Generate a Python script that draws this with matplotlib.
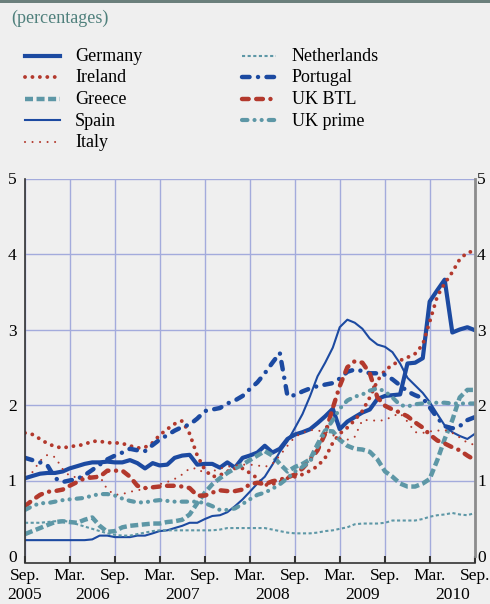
import matplotlib
matplotlib.use('Agg')
import matplotlib.pyplot as plt
from matplotlib.lines import Line2D
from matplotlib.patches import Rectangle
import pandas as pd

plt.rcParams['font.family'] = ['Liberation Serif', 'DejaVu Serif']

# ---------------------------------------------------------------------------
# Data: monthly values, Sep. 2005 - Sep. 2010 (percentages)
# ---------------------------------------------------------------------------

months = pd.date_range('2005-09-01', '2010-09-01', freq='MS')

germany = [1.03, 1.06, 1.09, 1.10, 1.10, 1.12, 1.16, 1.19, 1.22, 1.24,
           1.24, 1.25, 1.24, 1.24, 1.27, 1.23, 1.16, 1.23, 1.20, 1.21,
           1.30, 1.33, 1.34, 1.21, 1.22, 1.22, 1.17, 1.24, 1.17, 1.30,
           1.33, 1.37, 1.46, 1.37, 1.42, 1.55, 1.61, 1.64, 1.68, 1.76,
           1.85, 1.95, 1.68, 1.78, 1.84, 1.90, 1.94, 2.08, 2.12, 2.13,
           2.14, 2.55, 2.56, 2.62, 3.37, 3.52, 3.66, 2.96, 3.00, 3.03, 2.99]
ireland = [1.63, 1.61, 1.55, 1.49, 1.45, 1.43, 1.45, 1.46, 1.48, 1.52,
           1.52, 1.50, 1.50, 1.49, 1.46, 1.43, 1.44, 1.50, 1.60, 1.68,
           1.75, 1.79, 1.62, 1.33, 1.14, 1.05, 1.07, 1.12, 1.16, 1.16,
           1.10, 1.03, 0.94, 0.95, 0.98, 1.03, 1.05, 1.08, 1.13, 1.19,
           1.30, 1.50, 1.62, 1.70, 1.80, 1.92, 2.10, 2.32, 2.46, 2.53,
           2.59, 2.63, 2.68, 2.80, 3.10, 3.44, 3.61, 3.76, 3.93, 4.02, 4.04]
greece = [0.29, 0.33, 0.37, 0.41, 0.45, 0.46, 0.45, 0.44, 0.48, 0.51,
          0.40, 0.32, 0.33, 0.38, 0.40, 0.41, 0.42, 0.43, 0.43, 0.45,
          0.46, 0.48, 0.55, 0.70, 0.84, 0.95, 1.03, 1.10, 1.16, 1.21,
          1.27, 1.33, 1.39, 1.33, 1.22, 1.12, 1.18, 1.22, 1.28, 1.48,
          1.66, 1.65, 1.54, 1.46, 1.42, 1.41, 1.38, 1.28, 1.12, 1.05,
          0.96, 0.92, 0.92, 0.96, 1.02, 1.27, 1.55, 1.80, 2.10, 2.20, 2.20]
spain = [0.21, 0.21, 0.21, 0.21, 0.21, 0.21, 0.21, 0.21, 0.21, 0.22,
         0.27, 0.27, 0.25, 0.25, 0.25, 0.27, 0.27, 0.30, 0.33, 0.34,
         0.37, 0.40, 0.44, 0.44, 0.49, 0.53, 0.54, 0.58, 0.66, 0.75,
         0.85, 0.96, 1.05, 1.21, 1.38, 1.52, 1.70, 1.88, 2.12, 2.38,
         2.56, 2.76, 3.03, 3.13, 3.09, 3.01, 2.88, 2.80, 2.77, 2.70,
         2.55, 2.36, 2.26, 2.16, 2.04, 1.88, 1.73, 1.64, 1.59, 1.55, 1.62]
italy = [1.10, 1.11, 1.26, 1.34, 1.31, 1.15, 1.06, 1.04, 1.05, 1.07,
         1.06, 0.88, 0.81, 0.82, 0.85, 0.87, 0.89, 0.92, 0.95, 0.98,
         1.02, 1.08, 1.16, 1.16, 1.09, 1.12, 1.16, 1.18, 1.20, 1.21,
         1.21, 1.20, 1.18, 1.22, 1.33, 1.46, 1.58, 1.63, 1.67, 1.66,
         1.65, 1.60, 1.56, 1.54, 1.58, 1.80, 1.80, 1.79, 1.80, 1.85,
         1.89, 1.78, 1.64, 1.63, 1.65, 1.66, 1.67, 1.63, 1.57, 1.50, 1.47]
netherlands = [0.44, 0.44, 0.44, 0.45, 0.46, 0.47, 0.45, 0.42, 0.39, 0.36,
               0.33, 0.30, 0.28, 0.27, 0.27, 0.29, 0.31, 0.33, 0.34, 0.34,
               0.34, 0.34, 0.34, 0.34, 0.34, 0.34, 0.35, 0.37, 0.37, 0.37,
               0.37, 0.37, 0.37, 0.35, 0.33, 0.31, 0.30, 0.30, 0.30, 0.31,
               0.33, 0.34, 0.36, 0.38, 0.42, 0.43, 0.43, 0.43, 0.44, 0.47,
               0.47, 0.47, 0.47, 0.49, 0.52, 0.54, 0.55, 0.57, 0.55, 0.54, 0.57]
portugal = [1.30, 1.27, 1.24, 1.20, 1.03, 0.98, 1.00, 1.02, 1.07, 1.14,
            1.21, 1.28, 1.33, 1.37, 1.42, 1.40, 1.39, 1.47, 1.54, 1.60,
            1.66, 1.71, 1.74, 1.82, 1.92, 1.94, 1.96, 2.02, 2.06, 2.12,
            2.21, 2.30, 2.42, 2.56, 2.69, 2.12, 2.13, 2.18, 2.22, 2.25,
            2.27, 2.29, 2.35, 2.44, 2.47, 2.45, 2.42, 2.42, 2.40, 2.34,
            2.26, 2.18, 2.13, 2.09, 1.97, 1.83, 1.72, 1.69, 1.72, 1.80, 1.84]
uk_btl = [0.66, 0.74, 0.81, 0.85, 0.86, 0.88, 0.93, 0.98, 1.03, 1.04,
          1.05, 1.13, 1.13, 1.13, 1.05, 0.93, 0.90, 0.91, 0.92, 0.93,
          0.93, 0.92, 0.90, 0.80, 0.80, 0.84, 0.87, 0.86, 0.86, 0.88,
          0.95, 0.97, 0.95, 0.99, 1.01, 1.04, 1.08, 1.16, 1.27, 1.40,
          1.62, 1.96, 2.25, 2.50, 2.58, 2.56, 2.42, 2.10, 1.99, 1.94,
          1.90, 1.85, 1.77, 1.70, 1.61, 1.53, 1.49, 1.44, 1.40, 1.33, 1.27]
uk_prime = [0.61, 0.66, 0.70, 0.70, 0.72, 0.74, 0.75, 0.76, 0.77, 0.80,
            0.82, 0.82, 0.80, 0.76, 0.73, 0.71, 0.71, 0.73, 0.74, 0.73,
            0.72, 0.72, 0.72, 0.72, 0.70, 0.66, 0.61, 0.61, 0.63, 0.69,
            0.75, 0.81, 0.84, 0.89, 0.95, 1.03, 1.12, 1.18, 1.25, 1.45,
            1.65, 1.80, 1.95, 2.06, 2.11, 2.14, 2.19, 2.22, 2.18, 2.10,
            2.00, 1.98, 2.01, 2.02, 2.03, 2.03, 2.03, 2.02, 2.02, 2.02, 2.02]

tick_months = pd.date_range('2005-09-01', '2010-09-01', freq='6MS')
tick_labels = ['Sep.', 'Mar.'] * 5 + ['Sep.']
year_labels = ['2005', '2006', '2007', '2008', '2009', '2010']
year_pos = pd.to_datetime(['2005-09-01', '2006-06-01', '2007-06-01',
                           '2008-06-01', '2009-06-01', '2010-06-01'])

# ---------------------------------------------------------------------------
# Styles
# ---------------------------------------------------------------------------

BLUE = '#1c4aa1'
RED = '#b3392d'
TEAL = '#5d97a6'
GRID = '#a3abdc'
BG = '#efefef'

series = [
    ('Germany',     germany,     dict(color=BLUE, lw=3.0, ls='-')),
    ('Ireland',     ireland,     dict(color=RED,  lw=2.8, ls=(0, (0.01, 1.9)), dash_capstyle='round')),
    ('Greece',      greece,      dict(color=TEAL, lw=3.2, ls=(0, (1.8, 0.8)))),
    ('Spain',       spain,       dict(color=BLUE, lw=1.5, ls='-')),
    ('Italy',       italy,       dict(color=RED,  lw=1.5, ls=(0, (0.01, 3.6)), dash_capstyle='round')),
    ('Netherlands', netherlands, dict(color=TEAL, lw=1.5, ls=(0, (1.5, 1.2)))),
    ('Portugal',    portugal,    dict(color=BLUE, lw=3.2, ls=(0, (1.7, 1.9, 0.01, 1.9)), dash_capstyle='round')),
    ('UK BTL',      uk_btl,      dict(color=RED,  lw=3.2, ls=(0, (1.5, 1.7, 1.5, 1.7, 0.01, 1.7)), dash_capstyle='round')),
    ('UK prime',    uk_prime,    dict(color=TEAL, lw=3.0, ls=(0, (1.3, 1.7, 0.01, 1.7, 0.01, 1.7)), dash_capstyle='round')),
]

W, H = 490, 604


def fx(px):
    return px / W


def fy(py):
    return 1 - py / H


fig = plt.figure(figsize=(W / 100, H / 100), dpi=100, facecolor=BG)

# top band
fig.add_artist(Rectangle((0, fy(3)), 1, 3 / H, transform=fig.transFigure,
                         color='#6b7f7c', lw=0))

fig.text(fx(11), fy(18), '(percentages)', color='#4f807c', fontsize=13, va='center')

# legend, drawn by hand in two columns
rows_y = [55.5, 77, 98.5, 120, 141.5]
for i, (label, _, st) in enumerate(series):
    col, row = divmod(i, 5)
    x0, x1, xt = (25, 60, 75) if col == 0 else (242, 276, 292)
    y = rows_y[row]
    fig.add_artist(Line2D([fx(x0), fx(x1)], [fy(y), fy(y)], transform=fig.transFigure, **st))
    fig.text(fx(xt), fy(y + 1), label, fontsize=13, va='center')

# ---------------------------------------------------------------------------
# Axes
# ---------------------------------------------------------------------------

ax = fig.add_axes([fx(25), fy(556), fx(475) - fx(25), (556 - 178.5) / H])
ax.set_facecolor(BG)

for label, values, st in series:
    ax.plot(months, values, **st)

ax.set_xlim(months[0], months[-1])
ax.set_ylim(0, 5)
ax.set_yticks(range(6))
ax.set_xticks(tick_months)
ax.set_xticklabels(tick_labels)

ax.grid(True, color=GRID, lw=1.0)
ax.set_axisbelow(True)
ax.yaxis.get_gridlines()[0].set_visible(False)

ax.spines['top'].set_visible(False)
ax.spines['left'].set_color('#333333')
ax.spines['left'].set_linewidth(1.2)
ax.spines['right'].set_color('#8c8c8c')
ax.spines['right'].set_linewidth(2.0)
ax.spines['bottom'].set_position(('outward', 5))
ax.spines['bottom'].set_color('#333333')
ax.spines['bottom'].set_linewidth(1.2)

ax.tick_params(axis='x', direction='in', length=5, width=1.5, color='#333333',
               labelsize=12.5, pad=4)
ax.tick_params(axis='y', length=0, labelsize=12.5, pad=6)

# right-hand labels sit close to the spine, like the original
ax_r = ax.twinx()
ax_r.set_ylim(0, 5)
ax_r.set_yticks(range(6))
ax_r.tick_params(axis='y', length=0, labelsize=12.5, pad=1.5)
for s in ax_r.spines.values():
    s.set_visible(False)

for pos, yr in zip(year_pos, year_labels):
    ax.text(pos, -0.103, yr, transform=ax.get_xaxis_transform(),
            ha='center', va='center', fontsize=12.5)

fig.savefig('out.png', dpi=100, facecolor=BG)
